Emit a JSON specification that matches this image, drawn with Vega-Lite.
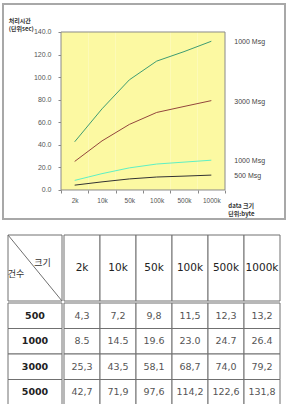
{
  "$schema": "https://vega.github.io/schema/vega-lite/v6.json",
  "padding": {"left": 2, "top": 3, "right": 0, "bottom": 0},
  "background": "white",
  "config": {
    "view": {"stroke": null},
    "font": "DejaVu Sans",
    "axis": {"labelFont": "Liberation Sans", "labelColor": "#555555", "labelFontSize": 7, "tickColor": "#888888", "tickSize": 3, "domain": false, "grid": false, "labelOverlap": false, "labelFlush": false, "labelBound": false}
  },
  "datasets": {
    "times": [
      {"msgs": "500", "size": "2k", "value": 4.3, "label": "4,3"},
      {"msgs": "500", "size": "10k", "value": 7.2, "label": "7,2"},
      {"msgs": "500", "size": "50k", "value": 9.8, "label": "9,8"},
      {"msgs": "500", "size": "100k", "value": 11.5, "label": "11,5"},
      {"msgs": "500", "size": "500k", "value": 12.3, "label": "12,3"},
      {"msgs": "500", "size": "1000k", "value": 13.2, "label": "13,2"},
      {"msgs": "1000", "size": "2k", "value": 8.5, "label": "8.5"},
      {"msgs": "1000", "size": "10k", "value": 14.5, "label": "14.5"},
      {"msgs": "1000", "size": "50k", "value": 19.6, "label": "19.6"},
      {"msgs": "1000", "size": "100k", "value": 23.0, "label": "23.0"},
      {"msgs": "1000", "size": "500k", "value": 24.7, "label": "24.7"},
      {"msgs": "1000", "size": "1000k", "value": 26.4, "label": "26.4"},
      {"msgs": "3000", "size": "2k", "value": 25.3, "label": "25,3"},
      {"msgs": "3000", "size": "10k", "value": 43.5, "label": "43,5"},
      {"msgs": "3000", "size": "50k", "value": 58.1, "label": "58,1"},
      {"msgs": "3000", "size": "100k", "value": 68.7, "label": "68,7"},
      {"msgs": "3000", "size": "500k", "value": 74.0, "label": "74,0"},
      {"msgs": "3000", "size": "1000k", "value": 79.2, "label": "79,2"},
      {"msgs": "5000", "size": "2k", "value": 42.7, "label": "42,7"},
      {"msgs": "5000", "size": "10k", "value": 71.9, "label": "71,9"},
      {"msgs": "5000", "size": "50k", "value": 97.6, "label": "97,6"},
      {"msgs": "5000", "size": "100k", "value": 114.2, "label": "114,2"},
      {"msgs": "5000", "size": "500k", "value": 122.6, "label": "122,6"},
      {"msgs": "5000", "size": "1000k", "value": 131.8, "label": "131,8"}
    ],
    "sizes": [
      {"size": "2k"}, {"size": "10k"}, {"size": "50k"}, {"size": "100k"}, {"size": "500k"}, {"size": "1000k"}
    ],
    "counts": [
      {"msgs": "500"}, {"msgs": "1000"}, {"msgs": "3000"}, {"msgs": "5000"}
    ],
    "tags": [
      {"msgs": "5000", "size": "1000k", "value": 131.8, "tag": "1000 Msg"},
      {"msgs": "3000", "size": "1000k", "value": 79.2, "tag": "3000 Msg"},
      {"msgs": "1000", "size": "1000k", "value": 26.4, "tag": "1000 Msg"},
      {"msgs": "500", "size": "1000k", "value": 13.2, "tag": "500 Msg"}
    ]
  },
  "vconcat": [
    {
      "width": 282,
      "height": 215,
      "view": {"stroke": "#a8a8a8", "strokeWidth": 2},
      "layer": [
        {
          "data": {"name": "sizes"},
          "mark": {"type": "rect", "fill": "#fcf9a2"},
          "encoding": {
            "x": {"field": "size", "type": "nominal", "title": null,
              "scale": {"domain": ["2k", "10k", "50k", "100k", "500k", "1000k"], "range": [58, 222], "paddingInner": 0, "paddingOuter": 0},
              "axis": {"offset": -29, "tickBand": "extent", "labelPadding": 4, "labelFontSize": 6.5, "labelAngle": 0, "labelOverlap": false}},
            "y": {"datum": 0, "type": "quantitative",
              "scale": {"domain": [-25.7, 164.81], "nice": false, "zero": false},
              "axis": {"offset": -58, "values": [0, 20, 40, 60, 80, 100, 120, 140], "format": ".1f", "labelPadding": 7, "labelOverlap": false, "tickCount": 8}},
            "y2": {"datum": 140}
          }
        },
        {
          "data": {"values": [{"a": 1}]},
          "mark": {"type": "rect", "fillOpacity": 0, "stroke": "#8a8a8a", "strokeWidth": 1},
          "encoding": {
            "x": {"datum": "2k", "type": "nominal", "bandPosition": 0},
            "x2": {"datum": "1000k", "bandPosition": 1},
            "y": {"datum": 0, "type": "quantitative"},
            "y2": {"datum": 140}
          }
        },
        {
          "data": {"name": "times"},
          "mark": {"type": "line", "strokeWidth": 1},
          "encoding": {
            "x": {"field": "size", "type": "nominal", "title": null,
              "axis": {"offset": -29, "tickBand": "extent", "labelPadding": 4, "labelFontSize": 6.5, "labelAngle": 0, "labelOverlap": false}},
            "y": {"field": "value", "type": "quantitative", "title": null,
              "axis": {"offset": -58, "values": [0, 20, 40, 60, 80, 100, 120, 140], "format": ".1f", "labelPadding": 7, "labelOverlap": false, "tickCount": 8}},
            "color": {"field": "msgs", "type": "nominal", "legend": null,
              "scale": {"domain": ["500", "1000", "3000", "5000"], "range": ["#333333", "#5ff0c4", "#93463d", "#3f9c72"]}}
          }
        },
        {
          "data": {"name": "tags"},
          "mark": {"type": "text", "align": "left", "baseline": "middle", "dx": 23, "dy": 1, "font": "Liberation Sans", "fontSize": 7, "color": "#444444"},
          "encoding": {
            "x": {"field": "size", "type": "nominal", "title": null,
              "axis": {"offset": -29, "tickBand": "extent", "labelPadding": 4, "labelFontSize": 6.5, "labelAngle": 0, "labelOverlap": false}},
            "y": {"field": "value", "type": "quantitative", "title": null,
              "axis": {"offset": -58, "values": [0, 20, 40, 60, 80, 100, 120, 140], "format": ".1f", "labelPadding": 7, "labelOverlap": false, "tickCount": 8}},
            "text": {"field": "tag"}
          }
        },
        {
          "data": {"values": [{"a": 1}]},
          "mark": {"type": "text", "align": "left", "baseline": "middle", "dx": -66, "font": "Noto Sans CJK KR", "fontWeight": "bold", "fontSize": 6, "lineHeight": 8.5, "color": "#333333", "text": ["처리시간", "(단위sec)"]},
          "encoding": {"x": {"datum": "2k", "type": "nominal"}, "y": {"datum": 149.75, "type": "quantitative"}}
        },
        {
          "data": {"values": [{"a": 1}]},
          "mark": {"type": "text", "align": "left", "baseline": "middle", "dx": 17, "font": "Noto Sans CJK KR", "fontWeight": "bold", "fontSize": 6, "lineHeight": 8, "color": "#333333", "text": ["data 크기", "단위:byte"]},
          "encoding": {"x": {"datum": "1000k", "type": "nominal"}, "y": {"datum": -14.6, "type": "quantitative"}}
        }
      ]
    },
    {
      "spacing": 0,
      "vconcat": [
        {
          "spacing": 0,
          "hconcat": [
            {
              "width": 59,
              "height": 66,
              "data": {"values": [{"a": 1}]},
              "encoding": {
                "x": {"datum": 0, "type": "quantitative", "scale": {"domain": [-0.0926, 1], "nice": false, "zero": false}, "axis": null},
                "y": {"datum": 0, "type": "quantitative", "scale": {"domain": [0, 1], "nice": false, "zero": false}, "axis": null}
              },
              "layer": [
                {
                  "mark": {"type": "rect", "fill": "white", "stroke": "#707070", "strokeWidth": 1},
                  "encoding": {"x2": {"datum": 1}, "y2": {"datum": 1}}
                },
                {
                  "mark": {"type": "rule", "stroke": "#707070", "strokeWidth": 1},
                  "encoding": {"y": {"datum": 1, "type": "quantitative"}, "x2": {"datum": 1}, "y2": {"datum": 0}}
                },
                {
                  "mark": {"type": "text", "text": "크기", "font": "Noto Sans CJK KR", "fontSize": 9, "color": "#333333"},
                  "encoding": {"x": {"datum": 0.64, "type": "quantitative"}, "y": {"datum": 0.58, "type": "quantitative"}}
                },
                {
                  "mark": {"type": "text", "text": "건수", "font": "Noto Sans CJK KR", "fontSize": 9, "color": "#333333"},
                  "encoding": {"x": {"datum": 0.15, "type": "quantitative"}, "y": {"datum": 0.41, "type": "quantitative"}}
                }
              ]
            },
            {
              "width": 216,
              "height": 66,
              "data": {"name": "sizes"},
              "encoding": {
                "x": {"field": "size", "type": "nominal", "scale": {"domain": ["2k", "10k", "50k", "100k", "500k", "1000k"], "paddingInner": 0, "paddingOuter": 0}, "axis": null},
                "y": {"datum": "h", "type": "nominal", "scale": {"paddingInner": 0, "paddingOuter": 0}, "axis": null}
              },
              "layer": [
                {"mark": {"type": "rect", "fill": "white", "stroke": "#707070", "strokeWidth": 1}},
                {"mark": {"type": "text", "font": "DejaVu Sans", "fontSize": 10.5, "color": "#222222"}, "encoding": {"text": {"field": "size"}}}
              ]
            }
          ]
        },
        {
          "spacing": 0,
          "hconcat": [
            {
              "width": 59,
              "height": 102,
              "data": {"name": "counts"},
              "encoding": {
                "x": {"datum": "c", "type": "nominal", "scale": {"paddingInner": 0, "paddingOuter": 0.0463, "align": 1}, "axis": null},
                "y": {"field": "msgs", "type": "nominal", "scale": {"domain": ["500", "1000", "3000", "5000"], "paddingInner": 0, "paddingOuter": 0}, "axis": null}
              },
              "layer": [
                {"mark": {"type": "rect", "fill": "white", "stroke": "#707070", "strokeWidth": 1}},
                {"mark": {"type": "text", "font": "DejaVu Sans", "fontWeight": "bold", "fontSize": 9.5, "color": "#222222"}, "encoding": {"text": {"field": "msgs"}}}
              ]
            },
            {
              "width": 216,
              "height": 102,
              "data": {"name": "times"},
              "encoding": {
                "x": {"field": "size", "type": "nominal", "scale": {"domain": ["2k", "10k", "50k", "100k", "500k", "1000k"], "paddingInner": 0, "paddingOuter": 0}, "axis": null},
                "y": {"field": "msgs", "type": "nominal", "scale": {"domain": ["500", "1000", "3000", "5000"], "paddingInner": 0, "paddingOuter": 0}, "axis": null}
              },
              "layer": [
                {"mark": {"type": "rect", "fill": "white", "stroke": "#707070", "strokeWidth": 1}},
                {"mark": {"type": "text", "font": "DejaVu Sans", "fontSize": 9.5, "color": "#555555"}, "encoding": {"text": {"field": "label"}}}
              ]
            }
          ]
        }
      ]
    }
  ],
  "spacing": 14
}
